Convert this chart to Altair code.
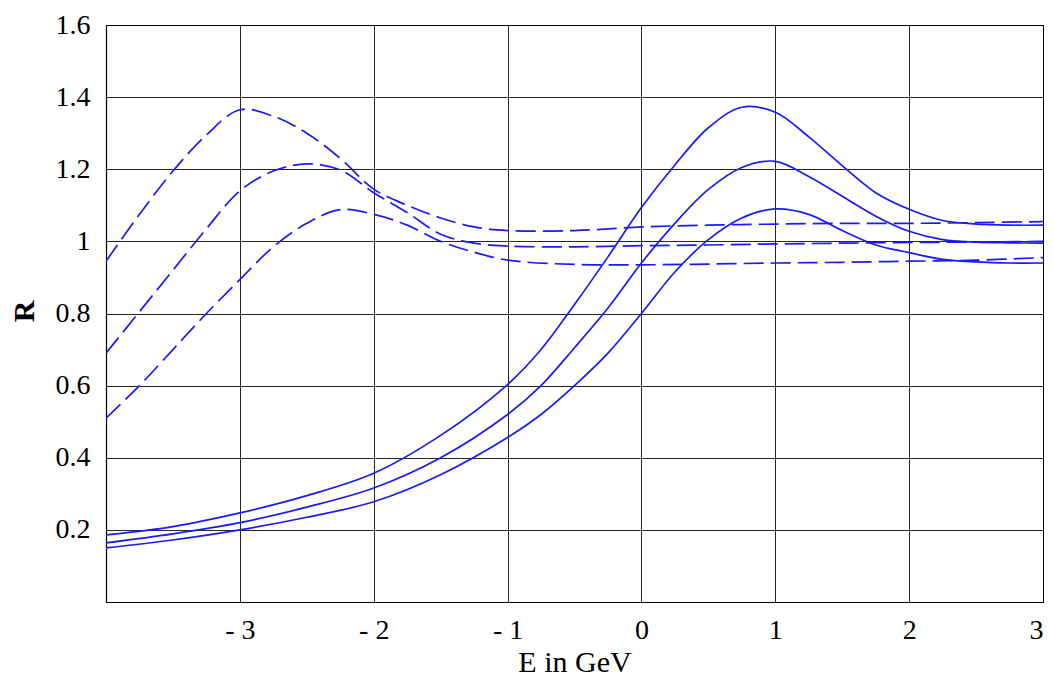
import altair as alt
import pandas as pd

# ---- data ----
E_solid = [-4, -3.5, -3, -2.5, -2, -1.5, -1, -0.75, -0.5, -0.25, 0, 0.25, 0.5,
           0.75, 1, 1.25, 1.5, 1.75, 2, 2.25, 2.5, 2.75, 3]
R_solid_top = [0.186, 0.209, 0.247, 0.295, 0.357, 0.462, 0.603, 0.70, 0.825, 0.957, 1.094, 1.212, 1.315,
               1.372, 1.358, 1.29, 1.21, 1.135, 1.089, 1.058, 1.048, 1.045, 1.045]
R_solid_mid = [0.164, 0.189, 0.22, 0.263, 0.316, 0.40, 0.52, 0.60, 0.705, 0.815, 0.94, 1.05, 1.144,
               1.205, 1.222, 1.18, 1.125, 1.07, 1.028, 1.005, 0.998, 0.996, 0.995]
R_solid_low = [0.15, 0.172, 0.20, 0.235, 0.278, 0.353, 0.456, 0.52, 0.60, 0.69, 0.80, 0.915, 1.005,
               1.065, 1.09, 1.075, 1.03, 0.99, 0.969, 0.95, 0.943, 0.94, 0.94]

E_dash = [-4, -3.75, -3.5, -3.25, -3, -2.75, -2.5, -2.25, -2, -1.75, -1.5, -1.25, -1,
          -0.5, 0, 0.5, 1, 1.5, 2, 2.5, 3]
R_dash_top = [0.945, 1.075, 1.195, 1.295, 1.365, 1.347, 1.30, 1.23, 1.145, 1.10, 1.065, 1.04, 1.03,
              1.03, 1.04, 1.045, 1.048, 1.05, 1.05, 1.052, 1.055]
R_dash_mid = [0.69, 0.805, 0.92, 1.035, 1.14, 1.195, 1.215, 1.198, 1.135, 1.08, 1.02, 0.995, 0.987,
              0.985, 0.988, 0.99, 0.993, 0.995, 0.997, 0.998, 1.0]
R_dash_low = [0.51, 0.60, 0.70, 0.80, 0.894, 0.985, 1.05, 1.088, 1.075, 1.045, 1.0, 0.97, 0.948,
              0.936, 0.935, 0.937, 0.94, 0.942, 0.945, 0.948, 0.955]

x_ticks = [-4, -3, -2, -1, 0, 1, 2, 3]
y_ticks = [0.2, 0.4, 0.6, 0.8, 1.0, 1.2, 1.4, 1.6]

rows = []
for name, ys in [("s1", R_solid_top), ("s2", R_solid_mid), ("s3", R_solid_low)]:
    for e, r in zip(E_solid, ys):
        rows.append({"E": e, "R": r, "series": name, "kind": "solid"})
for name, ys in [("d1", R_dash_top), ("d2", R_dash_mid), ("d3", R_dash_low)]:
    for e, r in zip(E_dash, ys):
        rows.append({"E": e, "R": r, "series": name, "kind": "dash"})
df = pd.DataFrame(rows)

FONT = "Liberation Serif"
BLUE = "#1a1aff"

x_enc = alt.X("E:Q", scale=alt.Scale(domain=[-4, 3], nice=False, zero=False),
              axis=alt.Axis(values=x_ticks, title="E in GeV", grid=True,
                            labelExpr="datum.value == -4 ? '' : (datum.value < 0 ? '- ' + toString(-datum.value) : toString(datum.value))",
                            ticks=False, tickSize=0, labelPadding=14, labelFontSize=28,
                            titleFontSize=30, titleFontWeight="normal",
                            titleBaseline="alphabetic", titleY=69))
y_enc = alt.Y("R:Q", scale=alt.Scale(domain=[0, 1.6], nice=False, zero=False),
              axis=alt.Axis(values=y_ticks, format="~g", title="R", grid=True,
                            ticks=False, tickSize=0, labelPadding=16, labelFontSize=28,
                            titleFontSize=30, titleFontWeight="bold", titleAngle=270,
                            titleBaseline="alphabetic", titleX=-73, titleY=286,
                            titleAlign="center"))

solid = alt.Chart(df).transform_filter(alt.datum.kind == "solid").mark_line(
    color=BLUE, strokeWidth=1.7, interpolate="catmull-rom", clip=True
).encode(x=x_enc, y=y_enc, detail="series:N", order="E:Q")

dashed = alt.Chart(df).transform_filter(alt.datum.kind == "dash").mark_line(
    color=BLUE, strokeWidth=1.7, interpolate="catmull-rom", strokeDash=[20, 7], clip=True
).encode(x=x_enc, y=y_enc, detail="series:N", order="E:Q")

chart = alt.layer(solid, dashed).properties(
    width=937, height=577,
    autosize=alt.AutoSizeParams(type="none"),
    padding={"left": 98, "top": 17, "right": 2, "bottom": 75},
).configure_axis(
    labelFont=FONT, titleFont=FONT, labelColor="#000", titleColor="#000",
    gridColor="#000", gridOpacity=0.85, gridWidth=1,
    domainColor="#000", domainWidth=1.2,
).configure_view(stroke="#000", strokeWidth=1)

chart.save("out.html", embed_options={"renderer": "svg", "actions": False})
